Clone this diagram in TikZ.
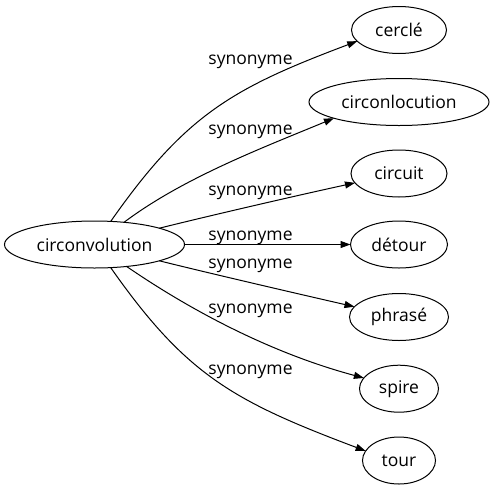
\documentclass[tikz,border=0pt]{standalone}
\usepackage{fontspec}
\setmainfont{Open Sans}
\usetikzlibrary{
	shapes.geometric,
	arrows.meta}

\begin{document}
\begin{tikzpicture}[x=1pt,y=-1pt,every node/.style={font=\fontsize{17.5}{20}\selectfont}]
  \tikzstyle{word}=[ellipse,draw,line width=1pt,minimum height=47pt,
    inner sep=0pt, outer sep=0pt]
  \tikzstyle{rel}=[anchor=base,inner sep=0pt]
  \tikzstyle{link}=[line width=1pt,-{Triangle[length=10pt,width=7pt]}]

  \useasboundingbox (0,0) rectangle (493,491);

  \node [word,minimum width=180pt] (circonvolution) at (94.5,244.5) {circonvolution};

  \node [word,minimum width=95pt] (cercle) at (399,30) {cerclé};
  \node [word,minimum width=180pt] (circonlocution) at (399,102) {circonlocution};
  \node [word,minimum width=96pt] (circuit) at (399,173.5) {circuit};
  \node [word,minimum width=97pt] (detour) at (399,244.5) {détour};
  \node [word,minimum width=99pt] (phrase) at (399,317) {phrasé};
  \node [word,minimum width=79pt] (spire) at (399,388.7) {spire};
  \node [word,minimum width=73pt] (tour) at (399,460.5) {tour};

  \node [rel] (syn1) at (250.5,64) {synonyme};
  \node [rel] (syn2) at (250.5,134.3) {synonyme};
  \node [rel] (syn3) at (250.5,195) {synonyme};
  \node [rel] (syn4) at (250.5,240.7) {synonyme};
  \node [rel] (syn5) at (250.5,268.3) {synonyme};
  \node [rel] (syn6) at (250.5,313.3) {synonyme};
  \node [rel] (syn7) at (250.5,374) {synonyme};

  \draw [link] (circonvolution) .. controls (186,114) and (233,88) .. (cercle.195);
  \draw [link] (circonvolution) .. controls (183,178) and (262,148) .. (circonlocution.194);
  \draw [link] (circonvolution) .. controls (200,218) and (290,197) .. (circuit.192);
  \draw [link] (circonvolution) -- (detour);
  \draw [link] (circonvolution) .. controls (200,271) and (290,292) .. (phrase.167);
  \draw [link] (circonvolution) .. controls (199,316) and (278,355) .. (spire.163);
  \draw [link] (circonvolution) .. controls (186,375) and (233,401) .. (tour.164);
\end{tikzpicture}
\end{document}
